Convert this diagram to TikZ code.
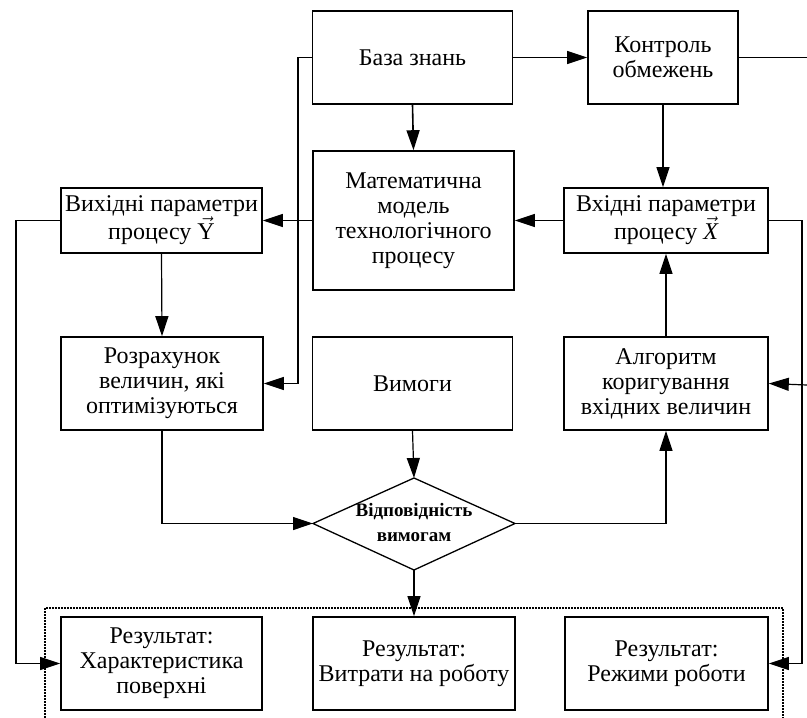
\documentclass[tikz,border=0pt]{standalone}
\usepackage{fontspec}
\setmainfont{Liberation Serif}
\usetikzlibrary{arrows.meta}
\tikzset{
  blk/.style={draw, line width=1.6pt, rectangle, inner sep=0pt, align=center,
    font=\fontsize{24}{25}\selectfont},
  wideline/.style={font=\fontsize{24}{28}\selectfont},
  conn/.style={line width=1.2pt},
  arr/.style={conn, -{Triangle[length=20pt,width=13pt]}},
  dotbox/.style={line width=1.6pt, dash pattern=on 1.6pt off 1.4pt}
}
\begin{document}
\begin{tikzpicture}[x=1pt,y=-1pt]
\useasboundingbox (0,0) rectangle (807,718);
% boxes
\node[blk, minimum width=200pt, minimum height=93pt] (baza) at (412.5,57.5) {База знань};
\node[blk, minimum width=150pt, minimum height=93pt] (kontrol) at (663,57.5) {Контроль\\обмежень};
\node[blk, minimum width=201pt, minimum height=139pt] (mat) at (413.5,220.5) {Математична\\модель\\технологічного\\процесу};
\node[blk, wideline, minimum width=201pt, minimum height=65pt] (vyh) at (161.5,220.5) {Вихідні параметри\\процесу $\vec{\mbox{Y}}$};
\node[blk, wideline, minimum width=204pt, minimum height=65pt] (vh) at (666,220.5) {Вхідні параметри\\процесу $\vec{\mbox{\itshape X}}$};
\node[blk, minimum width=202pt, minimum height=93pt] (rozr) at (162,383.5) {Розрахунок\\величин, які\\оптимізуються};
\node[blk, minimum width=200pt, minimum height=93pt] (vymogy) at (412.5,383.5) {Вимоги};
\node[blk, minimum width=204pt, minimum height=93pt] (alg) at (666,383.5) {Алгоритм\\коригування\\вхідних величин};
\node[blk, minimum width=201pt, minimum height=93pt] (har) at (161.5,663.5) {Результат:\\Характеристика\\поверхні};
\node[blk, minimum width=202pt, minimum height=93pt] (vyt) at (414,663.5) {Результат:\\Витрати на роботу};
\node[blk, minimum width=203pt, minimum height=93pt] (rez) at (666.5,663.5) {Результат:\\Режими роботи};
% diamond
\coordinate (dT) at (414,478);
\coordinate (dR) at (515,523.5);
\coordinate (dB) at (414,570);
\coordinate (dL) at (313,523.5);
\draw[line width=1.3pt] (dT) -- (dR) -- (dB) -- (dL) -- cycle;
\node[align=center, inner sep=0pt, font=\fontsize{19}{25}\selectfont\bfseries] (dtext) at (414,522) {Відповідність\\вимогам};
% dotted frame
\coordinate (fA) at (45,718);
\coordinate (fB) at (45,608);
\coordinate (fC) at (783,608);
\coordinate (fD) at (783,718);
\draw[dotbox] (fA) -- (fB) -- (fC) -- (fD);
% free ends
\coordinate (kEnd) at (807,57.5);
\coordinate (aStart) at (807,385);
% connectors
\draw[arr] (baza.east) -- (kontrol.west);
\draw[conn] (kontrol.east) -- (kEnd);
\draw[arr, line width=1.6pt] (baza.south) -- (mat.north);
\draw[arr] (baza.west) -- (298,57.5) |- (rozr.east);
\draw[arr] (mat.west) -- (vyh.east);
\draw[arr] (vh.west) -- (mat.east);
\draw[arr] (vyh.west) -- (16,220.5) |- (har.west);
\draw[arr] (vyh.south) -- (rozr.north);
\draw[arr] (rozr.south) |- (dL);
\draw[arr] (vymogy.south) -- (dT);
\draw[arr] (dR) -| (alg.south);
\draw[arr] (alg.north) -- (vh.south);
\draw[arr] (kontrol.south) -- (kontrol.south |- vh.north);
\draw[arr] (vh.east) -- (802,220.5) |- (rez.east);
\draw[arr] (aStart) -- (alg.east);
\draw[arr] (dB) -- (vyt.north);
\end{tikzpicture}
\end{document}
